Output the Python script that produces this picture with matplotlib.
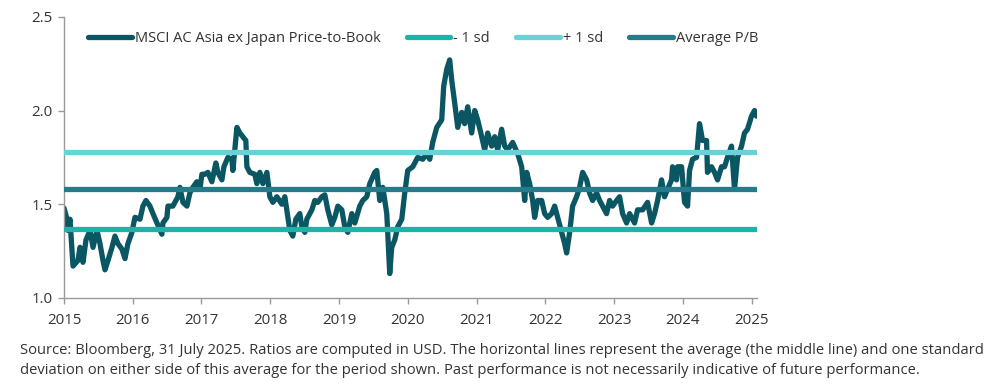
import matplotlib
matplotlib.use("Agg")
import matplotlib.pyplot as plt
import numpy as np

plt.rcParams['font.family'] = ['Open Sans', 'DejaVu Sans']

# years elapsed since start of 2015
t_years = [0.000, 0.044, 0.058, 0.087, 0.131, 0.203, 0.233, 0.276, 0.320, 0.378,
           0.422, 0.480, 0.523, 0.567, 0.596, 0.640, 0.698, 0.741, 0.785, 0.843,
           0.887, 0.930, 0.988, 1.032, 1.105, 1.148, 1.192, 1.250, 1.294, 1.352,
           1.424, 1.439, 1.497, 1.512, 1.584, 1.657, 1.686, 1.730, 1.788, 1.831,
           1.875, 1.933, 1.977, 2.006, 2.049, 2.093, 2.151, 2.209, 2.238, 2.297,
           2.326, 2.384, 2.442, 2.456, 2.515, 2.558, 2.645, 2.660, 2.703, 2.776,
           2.805, 2.849, 2.892, 2.951, 2.994, 3.038, 3.096, 3.169, 3.212, 3.256,
           3.285, 3.328, 3.372, 3.430, 3.459, 3.503, 3.532, 3.605, 3.648, 3.692,
           3.750, 3.794, 3.837, 3.895, 3.939, 3.983, 4.041, 4.084, 4.128, 4.186,
           4.230, 4.302, 4.346, 4.404, 4.448, 4.520, 4.549, 4.593, 4.637, 4.695,
           4.738, 4.767, 4.811, 4.855, 4.913, 4.956, 5.000, 5.073, 5.145, 5.218,
           5.276, 5.320, 5.363, 5.422, 5.494, 5.523, 5.567, 5.610, 5.640, 5.683,
           5.727, 5.785, 5.828, 5.872, 5.930, 5.974, 6.017, 6.076, 6.119, 6.163,
           6.221, 6.265, 6.308, 6.366, 6.410, 6.453, 6.526, 6.599, 6.657, 6.701,
           6.730, 6.773, 6.817, 6.846, 6.890, 6.948, 6.991, 7.035, 7.093, 7.137,
           7.180, 7.238, 7.282, 7.311, 7.355, 7.398, 7.456, 7.500, 7.544, 7.602,
           7.645, 7.689, 7.747, 7.791, 7.834, 7.892, 7.936, 7.980, 8.038, 8.081,
           8.125, 8.183, 8.227, 8.299, 8.343, 8.416, 8.488, 8.547, 8.590, 8.634,
           8.692, 8.735, 8.779, 8.837, 8.852, 8.910, 8.924, 8.983, 9.026, 9.070,
           9.099, 9.142, 9.201, 9.244, 9.288, 9.346, 9.360, 9.419, 9.462, 9.506,
           9.564, 9.608, 9.651, 9.709, 9.753, 9.797, 9.855, 9.898, 9.942, 10.000,
           10.044, 10.073]

pb = [1.48, 1.42, 1.36, 1.42, 1.17, 1.20, 1.27, 1.19, 1.31, 1.36,
      1.27, 1.36, 1.29, 1.20, 1.15, 1.20, 1.27, 1.33, 1.29, 1.26,
      1.21, 1.29, 1.35, 1.43, 1.42, 1.49, 1.52, 1.49, 1.45, 1.40,
      1.34, 1.40, 1.43, 1.49, 1.49, 1.54, 1.59, 1.51, 1.49, 1.56,
      1.59, 1.62, 1.58, 1.66, 1.66, 1.67, 1.62, 1.72, 1.67, 1.63,
      1.70, 1.75, 1.74, 1.68, 1.91, 1.88, 1.84, 1.70, 1.67, 1.66,
      1.61, 1.67, 1.61, 1.67, 1.54, 1.51, 1.54, 1.50, 1.54, 1.43,
      1.36, 1.33, 1.42, 1.45, 1.38, 1.35, 1.42, 1.47, 1.52, 1.51,
      1.54, 1.55, 1.47, 1.39, 1.43, 1.49, 1.47, 1.38, 1.35, 1.45,
      1.40, 1.49, 1.52, 1.54, 1.61, 1.67, 1.68, 1.52, 1.59, 1.45,
      1.13, 1.27, 1.31, 1.38, 1.42, 1.56, 1.68, 1.70, 1.75, 1.74,
      1.77, 1.74, 1.83, 1.91, 1.95, 2.13, 2.22, 2.27, 2.16, 2.04,
      1.91, 1.99, 1.93, 2.02, 1.88, 2.00, 1.95, 1.86, 1.79, 1.88,
      1.81, 1.86, 1.79, 1.90, 1.81, 1.79, 1.83, 1.77, 1.70, 1.52,
      1.67, 1.61, 1.52, 1.43, 1.52, 1.52, 1.45, 1.43, 1.45, 1.49,
      1.43, 1.35, 1.29, 1.24, 1.35, 1.49, 1.54, 1.59, 1.67, 1.63,
      1.56, 1.52, 1.56, 1.52, 1.49, 1.45, 1.52, 1.49, 1.52, 1.54,
      1.45, 1.40, 1.45, 1.40, 1.47, 1.47, 1.51, 1.40, 1.45, 1.52,
      1.63, 1.54, 1.58, 1.63, 1.70, 1.63, 1.70, 1.70, 1.51, 1.49,
      1.68, 1.74, 1.75, 1.93, 1.84, 1.84, 1.67, 1.70, 1.67, 1.63,
      1.70, 1.70, 1.75, 1.81, 1.58, 1.75, 1.81, 1.88, 1.90, 1.97,
      2.00, 1.97]

avg_pb = 1.58
minus_sd = 1.37
plus_sd = 1.78

year_ticks = list(range(2015, 2026))
y_ticks = [1.0, 1.5, 2.0, 2.5]

c_main = '#0b5663'
c_minus = '#1bb4a6'
c_plus = '#68d3d6'
c_avg = '#267b8a'
grey = '#9a9a9a'
txt = '#333333'

x = 2015 + np.array(t_years)

fig = plt.figure(figsize=(10, 3.91), dpi=100)
ax = fig.add_axes([0.064, 0.238, 0.693, 0.719])

lw = 3.8
ax.plot(x, pb, color=c_main, lw=lw, solid_joinstyle='round', solid_capstyle='round',
        label='MSCI AC Asia ex Japan Price-to-Book', zorder=2)
ax.axhline(minus_sd, color=c_minus, lw=lw, label='- 1 sd', zorder=3)
ax.axhline(plus_sd, color=c_plus, lw=lw, label='+ 1 sd', zorder=3)
ax.axhline(avg_pb, color=c_avg, lw=lw, label='Average P/B', zorder=3)

ax.set_xlim(2015, 2025.08)
ax.set_ylim(1.0, 2.5)
ax.set_xticks(year_ticks)
ax.set_xticklabels([str(y) for y in year_ticks])
ax.set_yticks(y_ticks)
ax.set_yticklabels(['%.1f' % v for v in y_ticks])

for s in ['top', 'right']:
    ax.spines[s].set_visible(False)
for s in ['left', 'bottom']:
    ax.spines[s].set_color(grey)
    ax.spines[s].set_linewidth(1.0)
ax.tick_params(axis='both', colors=grey, labelcolor=txt, labelsize=10.8, length=4, width=1)
ax.tick_params(axis='x', pad=7)
ax.tick_params(axis='y', pad=4)

leg = ax.legend(loc='upper left', bbox_to_anchor=(0.02, 0.985), ncol=4, frameon=False,
                fontsize=10.5, handlelength=3.0, handletextpad=0.2, columnspacing=1.8,
                borderaxespad=0.3)
for t in leg.get_texts():
    t.set_color(txt)
for h in leg.get_lines():
    h.set_solid_capstyle('round')
    h.set_linewidth(3.8)

caption = ("Source: Bloomberg, 31 July 2025. Ratios are computed in USD. The horizontal lines represent the average (the middle line) and one standard\n"
           "deviation on either side of this average for the period shown. Past performance is not necessarily indicative of future performance.")
fig.text(0.02, 0.077, caption, fontsize=10.6, color=txt, ha='left', va='center', linespacing=1.45)

fig.savefig('out.png', dpi=100)
